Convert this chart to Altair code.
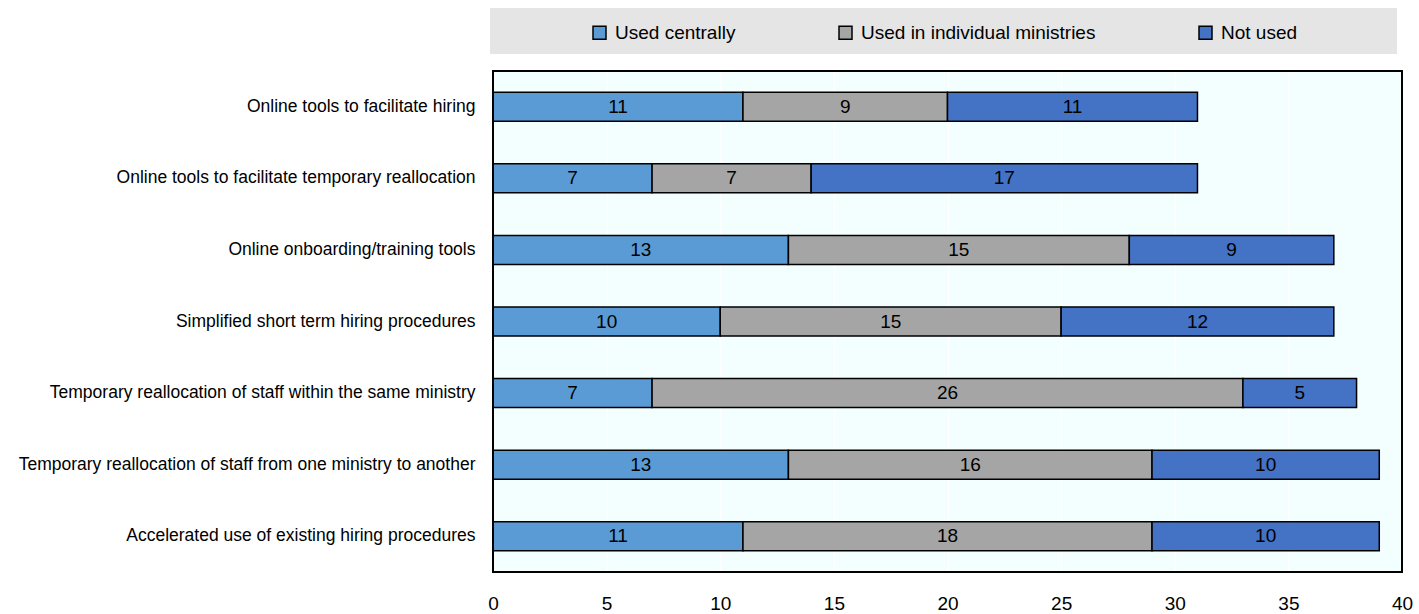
import altair as alt
import pandas as pd

items = [
    "Online tools to facilitate hiring",
    "Online tools to facilitate temporary reallocation",
    "Online onboarding/training tools",
    "Simplified short term hiring procedures",
    "Temporary reallocation of staff within the same ministry",
    "Temporary reallocation of staff from one ministry to another",
    "Accelerated use of existing hiring procedures",
]
series = ["Used centrally", "Used in individual ministries", "Not used"]
used_centrally = [11, 7, 13, 10, 7, 13, 11]
used_individual = [9, 7, 15, 15, 26, 16, 18]
not_used = [11, 17, 9, 12, 5, 10, 10]
colors = ["#5B9BD5", "#A5A5A5", "#4472C4"]
x_ticks = [0, 5, 10, 15, 20, 25, 30, 35, 40]

FONT = "Liberation Sans"

rows = []
for i, it in enumerate(items):
    for j, (s, vals) in enumerate(zip(series, [used_centrally, used_individual, not_used])):
        rows.append({"item": it, "series": s, "idx": j, "value": vals[i]})
df = pd.DataFrame(rows)

base = alt.Chart(df).transform_stack(
    stack="value", as_=["x0", "x1"], groupby=["item"], sort=[alt.SortField("idx", order="ascending")]
).transform_calculate(mid="(datum.x0 + datum.x1) / 2")

yenc = alt.Y("item:N", sort=items, title=None,
             scale=alt.Scale(paddingInner=0, paddingOuter=0),
             axis=alt.Axis(labelFont=FONT, labelFontSize=17.5, labelColor="black",
                           labelPadding=18, ticks=False, domain=False, grid=False,
                           labelLimit=600))

bars = base.mark_bar(size=29, stroke="black", strokeWidth=1.5).encode(
    x=alt.X("x0:Q", title=None,
            scale=alt.Scale(domain=[0, 40], nice=False),
            axis=alt.Axis(values=x_ticks, labelFont=FONT, labelFontSize=19, labelColor="black",
                          labelPadding=22, labelFlush=False, ticks=False, domain=False, grid=True,
                          gridColor="#FFFFFF", gridWidth=1.5)),
    x2="x1:Q",
    y=yenc,
    color=alt.Color("series:N", sort=series,
                    scale=alt.Scale(domain=series, range=colors),
                    legend=alt.Legend(title=None, orient="none", direction="horizontal",
                                      legendX=97, legendY=-48, columnPadding=100,
                                      symbolType="square", symbolSize=169,
                                      symbolStrokeColor="black", symbolStrokeWidth=1.5,
                                      symbolOpacity=1, labelOffset=6, labelLimit=500,
                                      labelFont=FONT, labelFontSize=19, labelColor="black")),
)

labels = base.mark_text(font=FONT, fontSize=19, color="black", baseline="middle").encode(
    x="mid:Q",
    y=alt.Y("item:N", sort=items),
    text="value:Q",
)

one = pd.DataFrame({"a": [0]})
band = alt.Chart(one).mark_rect(color="#E5E5E5").encode(
    x=alt.value(-3), x2=alt.value(904), y=alt.value(-63), y2=alt.value(-17)
)
border = alt.Chart(one).mark_rect(fillOpacity=0, stroke="black", strokeWidth=2).encode(
    x=alt.value(0), x2=alt.value(909), y=alt.value(0), y2=alt.value(501)
)

chart = alt.layer(band, bars, labels, border).properties(
    width=909, height=501,
    background="white",
    autosize=alt.AutoSizeParams(type="none"),
    padding={"left": 493, "top": 71, "right": 17, "bottom": 42},
).configure_view(
    fill="#F3FEFE", stroke=None
)

chart.save("out.html", embed_options={"renderer": "svg", "actions": False})
